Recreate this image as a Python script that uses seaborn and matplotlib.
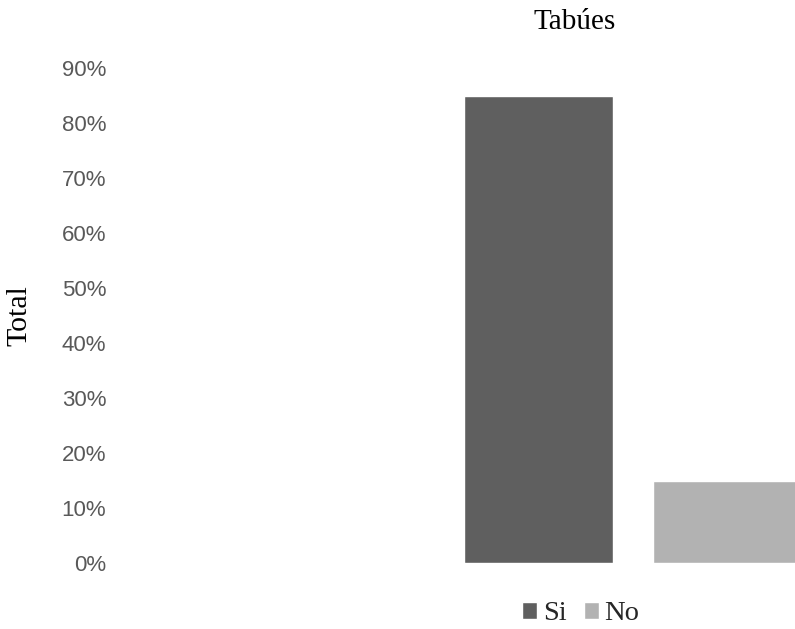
import matplotlib
matplotlib.use("Agg")
import matplotlib.pyplot as plt
import seaborn as sns
import pandas as pd
from matplotlib.ticker import PercentFormatter

# Survey answers: share of respondents
categories = ["Si", "No"]
values = [0.85, 0.15]
colors = ["#5F5F5F", "#B2B2B2"]
yticks = [0.0, 0.1, 0.2, 0.3, 0.4, 0.5, 0.6, 0.7, 0.8, 0.9]

df = pd.DataFrame({"respuesta": categories, "total": values})

sns.set_theme(style="white")
plt.rcParams["font.family"] = ["Liberation Sans", "DejaVu Sans"]

fig = plt.figure(figsize=(7.95, 6.29), dpi=100)
ax = fig.add_axes([120 / 795, 66 / 629, 675 / 795, 495 / 629])

sns.barplot(data=df, x="respuesta", y="total", hue="respuesta",
            palette=colors, width=0.79, ax=ax, legend=True,
            saturation=1, order=categories, hue_order=categories)

ax.set_xlim(-2.214, 1.357)
ax.set_ylim(0, 0.9)
ax.set_yticks(yticks)
ax.yaxis.set_major_formatter(PercentFormatter(1.0, decimals=0))
ax.tick_params(axis="y", labelsize=16, labelcolor="#595959", length=0, pad=10)
ax.set_xticks([])
ax.set_xlabel("")
for s in ax.spines.values():
    s.set_visible(False)

ax.set_ylabel("Total", family="Liberation Serif", fontsize=21.5, color="black")
ax.yaxis.set_label_coords(-0.130, 0.5)

fig.text(575 / 795, 1 - 22 / 629, "Tabúes", family="Liberation Serif",
         fontsize=21, ha="center", va="center", color="black")

sns.move_legend(ax, "center", bbox_to_anchor=(581 / 795, 15 / 629),
                bbox_transform=fig.transFigure, ncol=2, frameon=False,
                title=None, prop={"family": "Liberation Serif", "size": 20.5},
                handlelength=0.53, handleheight=0.53, handletextpad=0.2,
                columnspacing=0.6, borderpad=0, borderaxespad=0)

fig.savefig("out.png", dpi=100)
